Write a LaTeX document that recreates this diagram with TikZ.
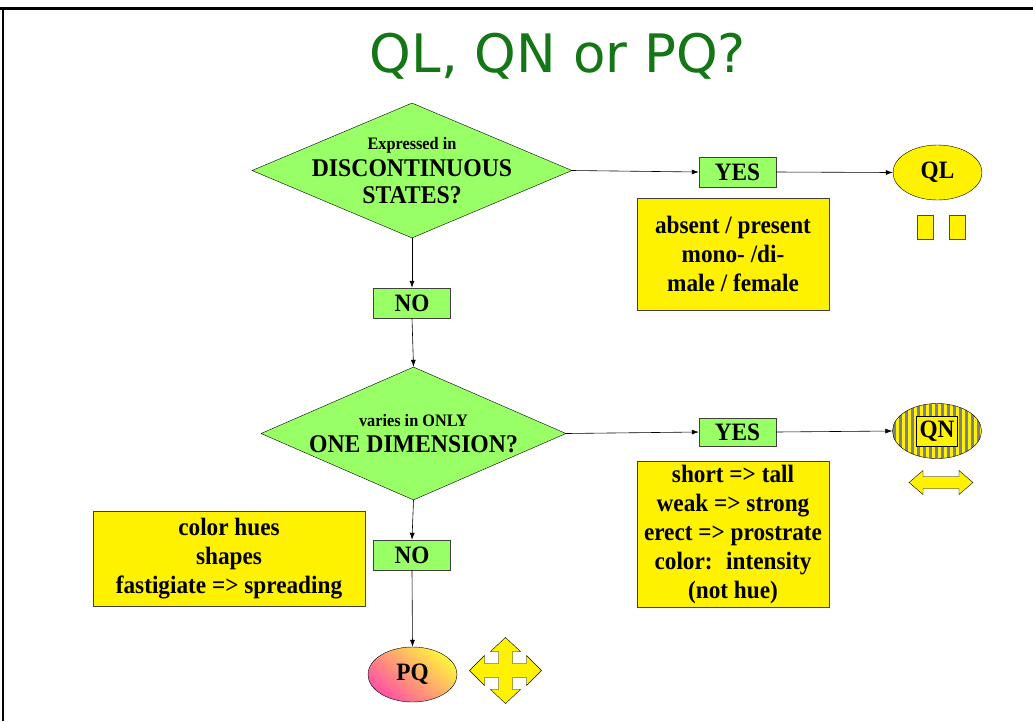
\documentclass[tikz,border=0pt]{standalone}
\usepackage{fontspec}
\setmainfont[FakeStretch=0.93]{Liberation Serif}
\newfontfamily\titlefont{DejaVu Sans}
\usetikzlibrary{shapes.geometric,arrows.meta}
\definecolor{boxgreen}{RGB}{153,255,102}
\definecolor{titlegreen}{RGB}{20,118,20}
\definecolor{stripegray}{RGB}{128,128,128}
\definecolor{pqpink}{RGB}{255,80,165}
\definecolor{pqorange}{RGB}{255,215,85}
\definecolor{pqyellow}{RGB}{255,245,60}
\begin{document}
\begin{tikzpicture}[x=1pt,y=-1pt,>={Latex[length=7pt,width=5pt]},
  decision/.style={diamond, draw, fill=boxgreen, inner sep=0pt},
  answer/.style={rectangle, draw=black!75, fill=boxgreen, minimum width=77pt, minimum height=30pt, inner sep=0pt, font=\fontsize{25}{29}\selectfont\bfseries},
  note/.style={rectangle, draw=black!75, fill=yellow, align=center, inner sep=0pt, font=\fontsize{25}{29}\selectfont\bfseries},
  result/.style={ellipse, draw, minimum width=89pt, minimum height=55pt, inner sep=0pt, font=\fontsize{25}{29}\selectfont\bfseries},
  conn/.style={->, line width=0.6pt}]
\useasboundingbox (0,0) rectangle (1033,721);
\fill[white] (0,0) rectangle (1033,721);
% frame
\draw[line width=3pt] (0,8) -- (1033,8);
\draw[line width=2pt] (3,8) -- (3,721);
% title
\node[anchor=base, text=titlegreen, font=\titlefont\fontsize{53}{60}\selectfont] (title) at (558,72) {QL, QN or PQ?};
% questions
\node[decision, minimum width=320pt, minimum height=135pt,
  label={[align=center, font=\bfseries\fontsize{25.5}{27}\selectfont]center:{\fontsize{17.5}{19}\selectfont Expressed in}\\DISCONTINUOUS\\STATES?}] (q1) at (412,170.5) {};
\node[decision, minimum width=305pt, minimum height=133pt,
  label={[align=center, font=\bfseries\fontsize{25.5}{26}\selectfont]center:{\fontsize{17.5}{19}\selectfont varies in ONLY}\\ONE DIMENSION?}] (q2) at (413.5,433.5) {};
% yes / no boxes
\node[answer] (yes1) at (737.5,172) {YES};
\node[answer, minimum height=28pt] (yes2) at (737.5,432) {YES};
\node[answer] (no1) at (412,303) {NO};
\node[answer] (no2) at (412,555) {NO};
% examples
\node[note, minimum width=192pt, minimum height=112pt] (ex1) at (733,254) {absent / present\\mono- /di-\\male / female};
\node[note, minimum width=192pt, minimum height=146pt] (ex2) at (733,534) {short => tall\\weak => strong\\erect => prostrate\\color:~ intensity\\(not hue)};
\node[note, minimum width=272pt, minimum height=95pt] (ex3) at (229,558.5) {color hues\\shapes\\fastigiate => spreading};
% results
\node[result, fill=yellow] (ql) at (937.5,172.5) {QL};
\node[result, fill=yellow, path picture={
  \foreach \i in {0,6,...,96}
    \fill[stripegray] ([xshift=\i pt]path picture bounding box.south west) rectangle ++(3pt,60pt);}] (qn) at (937,431) {};
\node[rectangle, draw, fill=yellow, minimum width=41pt, minimum height=30pt, inner sep=0pt, font=\fontsize{25}{29}\selectfont\bfseries] (qnlabel) at (qn) {QN};
\node[result, bottom color=pqpink, middle color=pqorange, top color=pqyellow, shading angle=-40] (pq) at (412.5,674.5) {PQ};
% connectors
\draw[conn] (q1.east) -- (yes1.west);
\draw[conn] (yes1.east) -- (ql.west);
\draw[conn] (q1.south) -- (no1.north);
\draw[conn] (no1.south) -- (q2.north);
\draw[conn] (q2.east) -- (yes2.west);
\draw[conn] (yes2.east) -- (qn.west);
\draw[conn] (q2.south) -- (no2.north);
\draw[conn] (no2.south) -- (pq.north);
% symbols
\draw[fill=yellow, draw=black!70] (917,215) rectangle (933,239);
\draw[fill=yellow, draw=black!70] (949,215) rectangle (965,239);
\begin{scope}[shift={(941,482.5)}]
\draw[fill=yellow, line join=miter] (-32,0) -- (-18,-12) -- (-18,-6) -- (18,-6) -- (18,-12) -- (32,0) -- (18,12) -- (18,6) -- (-18,6) -- (-18,12) -- cycle;
\end{scope}
\begin{scope}[shift={(505.5,670.5)}]
\draw[fill=yellow, line join=miter] (7,-7) -- (7,-19) -- (15,-19) -- (0,-33) -- (-15,-19) -- (-7,-19) -- (-7,-7)
  -- (-21,-7) -- (-21,-15) -- (-36,0) -- (-21,15) -- (-21,7) -- (-7,7) -- (-7,19) -- (-15,19) -- (0,33)
  -- (15,19) -- (7,19) -- (7,7) -- (21,7) -- (21,15) -- (36,0) -- (21,-15) -- (21,-7) -- cycle;
\end{scope}
\end{tikzpicture}
\end{document}
